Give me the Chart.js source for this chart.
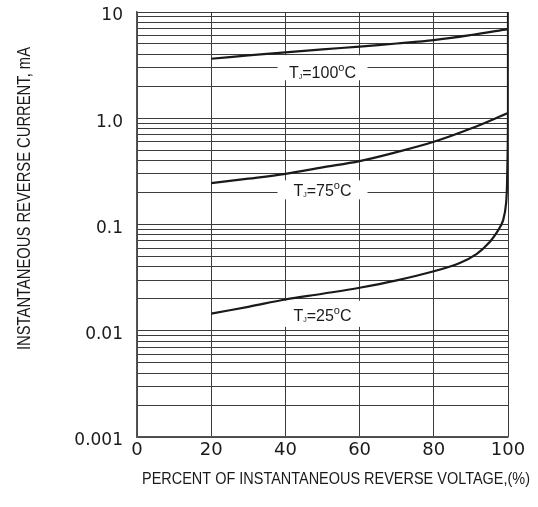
<!DOCTYPE html>
<html><head><meta charset="utf-8">
<script src="https://cdn.jsdelivr.net/npm/chart.js@4.4.1/dist/chart.umd.min.js"></script>
<style>html,body{margin:0;padding:0;background:#fff;}#wrap{width:538px;height:507px;position:relative;}</style>
</head><body><div id="wrap"><canvas id="c"></canvas></div>
<script>
// ---- data ----
const xTickValues = [0, 20, 40, 60, 80, 100];
const yDecades = [0.001, 0.01, 0.1, 1, 10];
const yDecadeLabels = ['0.001', '0.01', '0.1', '1.0', '10'];
const yMinorSteps = [1, 2, 3, 4, 5, 6, 7, 8, 9];
const seriesNames = ['100', '75', '25'];

const t100X = [20, 30, 40, 50, 60, 70, 80, 90, 100];
const t100Y = [3.63, 3.9, 4.17, 4.45, 4.72, 5.05, 5.44, 6.07, 6.9];

const t75X = [20, 30, 40, 50, 60, 70, 80, 90, 100];
const t75Y = [0.245, 0.27, 0.3, 0.345, 0.395, 0.48, 0.6, 0.8, 1.12];

const t25X = [20, 30, 40, 50, 60, 70, 80, 87, 91.6, 95, 97.5, 98.7, 99.5, 99.8, 100, 100];
const t25Y = [0.0145, 0.0168, 0.0197, 0.0223, 0.0254, 0.0298, 0.0363, 0.0435, 0.053, 0.068, 0.09, 0.11, 0.16, 0.3, 1, 10];

const xTitle = 'PERCENT OF INSTANTANEOUS REVERSE VOLTAGE,(%)';
const yTitle = 'INSTANTANEOUS REVERSE CURRENT, mA';

// ---- derived ----
const yGridValues = [];
yDecades.slice(0, -1).forEach(d => yMinorSteps.forEach(s => yGridValues.push(+(d * s).toPrecision(6))));
yGridValues.push(yDecades[yDecades.length - 1]);

function pts(xs, ys) { return xs.map((x, i) => ({ x: x, y: ys[i] })); }

const curveLabels = [
  { name: seriesNames[0], x: 50, y: 2.38, boxTop: -23, boxBottom: 2 },
  { name: seriesNames[1], x: 50, y: 0.184, boxTop: -16, boxBottom: 3 },
  { name: seriesNames[2], x: 50, y: 0.0124, boxTop: -20, boxBottom: 6 }
];

const FONT = '"Liberation Sans", Arial, sans-serif';
const INK = '#1a1a1a';
const GRID = '#3c3c3c';

function labelParts(t) {
  return [
    { s: 'T', f: '16px ' + FONT, dy: 0 },
    { s: 'J', f: '7px ' + FONT, dy: 1 },
    { s: '=' + t, f: '16px ' + FONT, dy: 0 },
    { s: 'o', f: '11px ' + FONT, dy: -7 },
    { s: 'C', f: '16px ' + FONT, dy: 0 }
  ];
}

const labelPlugin = {
  id: 'curveLabels',
  beforeDatasetsDraw(chart) {
    const ctx = chart.ctx, xs = chart.scales.x, ys = chart.scales.y;
    ctx.save();
    ctx.fillStyle = '#ffffff';
    curveLabels.forEach(l => {
      const cx = xs.getPixelForValue(l.x), by = ys.getPixelForValue(l.y);
      ctx.fillRect(cx - 45, by + l.boxTop, 90, l.boxBottom - l.boxTop);
    });
    ctx.restore();
  },
  afterDatasetsDraw(chart) {
    const ctx = chart.ctx, xs = chart.scales.x, ys = chart.scales.y;
    ctx.save();
    ctx.fillStyle = INK;
    ctx.textBaseline = 'alphabetic';
    ctx.textAlign = 'left';
    curveLabels.forEach(l => {
      const parts = labelParts(l.name);
      let w = 0;
      parts.forEach(p => { ctx.font = p.f; p.w = ctx.measureText(p.s).width; w += p.w; });
      let x = xs.getPixelForValue(l.x) - w / 2;
      const by = ys.getPixelForValue(l.y);
      parts.forEach(p => { ctx.font = p.f; ctx.fillText(p.s, x, by + p.dy); x += p.w; });
    });
    ctx.restore();
  },
  afterDraw(chart) {
    const ctx = chart.ctx;
    ctx.save();
    ctx.fillStyle = INK;
    ctx.textAlign = 'center';
    ctx.textBaseline = 'middle';
    ctx.font = '17px ' + FONT;
    let w = ctx.measureText(xTitle).width;
    ctx.save();
    ctx.translate(336, 479);
    ctx.scale(388 / w, 1);
    ctx.fillText(xTitle, 0, 0);
    ctx.restore();
    ctx.font = '18px ' + FONT;
    w = ctx.measureText(yTitle).width;
    ctx.save();
    ctx.translate(25, 198.5);
    ctx.rotate(-Math.PI / 2);
    ctx.scale(303 / w, 1);
    ctx.fillText(yTitle, 0, 0);
    ctx.restore();
    ctx.restore();
  }
};

const lineStyle = { borderColor: INK, borderWidth: 2.2, pointRadius: 0, fill: false, tension: 0.35 };

new Chart(document.getElementById('c'), {
  type: 'line',
  data: {
    datasets: [
      Object.assign({ label: 'TJ=' + seriesNames[0] + '°C', data: pts(t100X, t100Y) }, lineStyle),
      Object.assign({ label: 'TJ=' + seriesNames[1] + '°C', data: pts(t75X, t75Y) }, lineStyle),
      Object.assign({ label: 'TJ=' + seriesNames[2] + '°C', data: pts(t25X, t25Y) }, lineStyle)
    ]
  },
  options: {
    responsive: true,
    maintainAspectRatio: false,
    animation: false,
    layout: { padding: { top: 12, right: 30, left: 0, bottom: 0 } },
    plugins: { legend: { display: false }, tooltip: { enabled: false } },
    elements: { line: { capBezierPoints: true } },
    scales: {
      x: {
        type: 'linear', min: 0, max: 100,
        afterBuildTicks: s => { s.ticks = xTickValues.map(v => ({ value: v })); },
        afterFit: s => { s.height = 70; s.paddingLeft = 0; s.paddingRight = 0; },
        grid: { color: GRID, lineWidth: 1, drawTicks: false },
        border: { display: true, color: '#555', width: 1.5 },
        ticks: { color: INK, font: { family: 'DejaVu Sans', size: 18 }, padding: 3, maxRotation: 0, autoSkip: false }
      },
      y: {
        type: 'logarithmic', min: 0.001, max: 10,
        afterBuildTicks: s => { s.ticks = yGridValues.map(v => ({ value: v })); },
        afterFit: s => { s.width = 137; s.paddingTop = 0; s.paddingBottom = 0; },
        grid: { color: GRID, lineWidth: 1, drawTicks: false },
        border: { display: true, color: '#555', width: 1.5 },
        ticks: {
          color: INK, font: { family: 'DejaVu Sans', size: 17 }, padding: 14, autoSkip: false, labelOffset: 4,
          callback: v => {
            const i = yDecades.findIndex(d => Math.abs(Math.log10(d) - Math.log10(v)) < 1e-6);
            return i >= 0 ? yDecadeLabels[i] : '';
          }
        }
      }
    }
  },
  plugins: [labelPlugin]
});
</script></body></html>
